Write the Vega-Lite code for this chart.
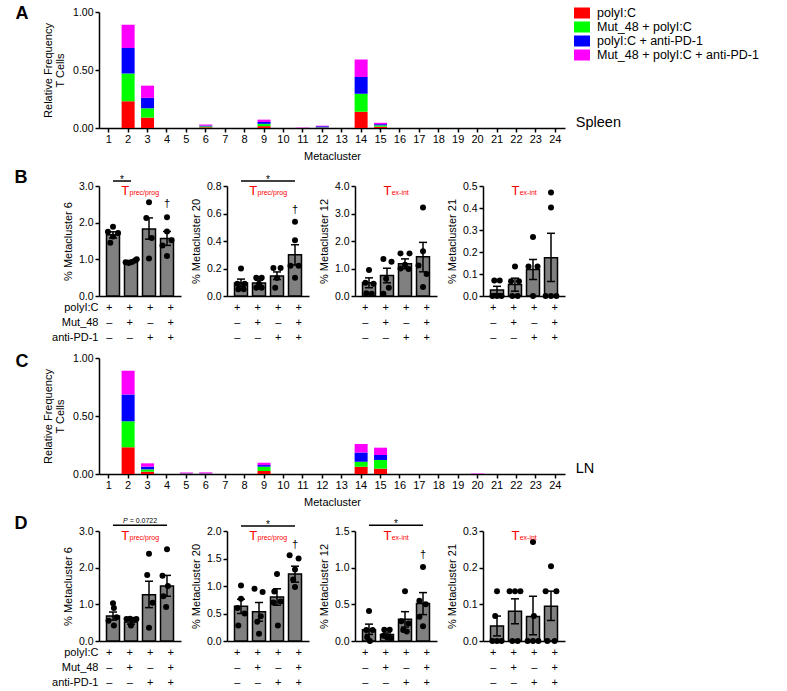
{
"$schema": "https://vega.github.io/schema/vega-lite/v6.json",
"background": "white",
"padding": {"left": 14, "top": 5, "right": 5, "bottom": 2},
"spacing": 8,
"datasets": {
"spleen": [
{"mc":2,"c":"polyI:C","k":0,"v":0.23},{"mc":2,"c":"Mut_48 + polyI:C","k":1,"v":0.24},{"mc":2,"c":"polyI:C + anti-PD-1","k":2,"v":0.22},{"mc":2,"c":"Mut_48 + polyI:C + anti-PD-1","k":3,"v":0.2},
{"mc":3,"c":"polyI:C","k":0,"v":0.09},{"mc":3,"c":"Mut_48 + polyI:C","k":1,"v":0.08},{"mc":3,"c":"polyI:C + anti-PD-1","k":2,"v":0.09},{"mc":3,"c":"Mut_48 + polyI:C + anti-PD-1","k":3,"v":0.105},
{"mc":6,"c":"polyI:C","k":0,"v":0.006},{"mc":6,"c":"Mut_48 + polyI:C","k":1,"v":0.008},{"mc":6,"c":"polyI:C + anti-PD-1","k":2,"v":0.007},{"mc":6,"c":"Mut_48 + polyI:C + anti-PD-1","k":3,"v":0.009},
{"mc":9,"c":"polyI:C","k":0,"v":0.016},{"mc":9,"c":"Mut_48 + polyI:C","k":1,"v":0.02},{"mc":9,"c":"polyI:C + anti-PD-1","k":2,"v":0.016},{"mc":9,"c":"Mut_48 + polyI:C + anti-PD-1","k":3,"v":0.02},
{"mc":11,"c":"Mut_48 + polyI:C + anti-PD-1","k":3,"v":0.003},
{"mc":12,"c":"polyI:C","k":0,"v":0.003},{"mc":12,"c":"Mut_48 + polyI:C","k":1,"v":0.003},{"mc":12,"c":"polyI:C + anti-PD-1","k":2,"v":0.009},{"mc":12,"c":"Mut_48 + polyI:C + anti-PD-1","k":3,"v":0.005},
{"mc":14,"c":"polyI:C","k":0,"v":0.14},{"mc":14,"c":"Mut_48 + polyI:C","k":1,"v":0.155},{"mc":14,"c":"polyI:C + anti-PD-1","k":2,"v":0.145},{"mc":14,"c":"Mut_48 + polyI:C + anti-PD-1","k":3,"v":0.15},
{"mc":15,"c":"polyI:C","k":0,"v":0.011},{"mc":15,"c":"Mut_48 + polyI:C","k":1,"v":0.012},{"mc":15,"c":"polyI:C + anti-PD-1","k":2,"v":0.01},{"mc":15,"c":"Mut_48 + polyI:C + anti-PD-1","k":3,"v":0.012}
],
"ln": [
{"mc":2,"c":"polyI:C","k":0,"v":0.23},{"mc":2,"c":"Mut_48 + polyI:C","k":1,"v":0.225},{"mc":2,"c":"polyI:C + anti-PD-1","k":2,"v":0.23},{"mc":2,"c":"Mut_48 + polyI:C + anti-PD-1","k":3,"v":0.205},
{"mc":3,"c":"polyI:C","k":0,"v":0.02},{"mc":3,"c":"Mut_48 + polyI:C","k":1,"v":0.02},{"mc":3,"c":"polyI:C + anti-PD-1","k":2,"v":0.023},{"mc":3,"c":"Mut_48 + polyI:C + anti-PD-1","k":3,"v":0.029},
{"mc":5,"c":"polyI:C","k":0,"v":0.002},{"mc":5,"c":"Mut_48 + polyI:C","k":1,"v":0.002},{"mc":5,"c":"polyI:C + anti-PD-1","k":2,"v":0.002},{"mc":5,"c":"Mut_48 + polyI:C + anti-PD-1","k":3,"v":0.008},
{"mc":6,"c":"polyI:C","k":0,"v":0.002},{"mc":6,"c":"Mut_48 + polyI:C","k":1,"v":0.002},{"mc":6,"c":"polyI:C + anti-PD-1","k":2,"v":0.002},{"mc":6,"c":"Mut_48 + polyI:C + anti-PD-1","k":3,"v":0.008},
{"mc":9,"c":"polyI:C","k":0,"v":0.026},{"mc":9,"c":"Mut_48 + polyI:C","k":1,"v":0.037},{"mc":9,"c":"polyI:C + anti-PD-1","k":2,"v":0.014},{"mc":9,"c":"Mut_48 + polyI:C + anti-PD-1","k":3,"v":0.02},
{"mc":14,"c":"polyI:C","k":0,"v":0.063},{"mc":14,"c":"Mut_48 + polyI:C","k":1,"v":0.043},{"mc":14,"c":"polyI:C + anti-PD-1","k":2,"v":0.08},{"mc":14,"c":"Mut_48 + polyI:C + anti-PD-1","k":3,"v":0.072},
{"mc":15,"c":"polyI:C","k":0,"v":0.046},{"mc":15,"c":"Mut_48 + polyI:C","k":1,"v":0.075},{"mc":15,"c":"polyI:C + anti-PD-1","k":2,"v":0.043},{"mc":15,"c":"Mut_48 + polyI:C + anti-PD-1","k":3,"v":0.063},
{"mc":20,"c":"Mut_48 + polyI:C + anti-PD-1","k":3,"v":0.004}
],
"bars": [
{"p":"B1","x":1,"y":1.67,"lo":1.58,"hi":1.75},{"p":"B1","x":2,"y":0.94,"lo":0.91,"hi":0.97},{"p":"B1","x":3,"y":1.83,"lo":1.55,"hi":2.13},{"p":"B1","x":4,"y":1.57,"lo":1.38,"hi":1.76},
{"p":"B2","x":1,"y":0.095,"lo":0.07,"hi":0.123},{"p":"B2","x":2,"y":0.095,"lo":0.077,"hi":0.115},{"p":"B2","x":3,"y":0.145,"lo":0.12,"hi":0.175},{"p":"B2","x":4,"y":0.3,"lo":0.225,"hi":0.373},
{"p":"B3","x":1,"y":0.48,"lo":0.3,"hi":0.66},{"p":"B3","x":2,"y":0.75,"lo":0.48,"hi":1.01},{"p":"B3","x":3,"y":1.17,"lo":0.99,"hi":1.35},{"p":"B3","x":4,"y":1.43,"lo":0.88,"hi":1.95},
{"p":"B4","x":1,"y":0.027,"lo":0.01,"hi":0.044},{"p":"B4","x":2,"y":0.052,"lo":0.022,"hi":0.081},{"p":"B4","x":3,"y":0.12,"lo":0.075,"hi":0.166},{"p":"B4","x":4,"y":0.174,"lo":0.066,"hi":0.285},
{"p":"D1","x":1,"y":0.68,"lo":0.57,"hi":0.79},{"p":"D1","x":2,"y":0.52,"lo":0.46,"hi":0.58},{"p":"D1","x":3,"y":1.26,"lo":0.91,"hi":1.63},{"p":"D1","x":4,"y":1.5,"lo":1.22,"hi":1.79},
{"p":"D2","x":1,"y":0.63,"lo":0.5,"hi":0.76},{"p":"D2","x":2,"y":0.53,"lo":0.36,"hi":0.7},{"p":"D2","x":3,"y":0.8,"lo":0.65,"hi":0.95},{"p":"D2","x":4,"y":1.22,"lo":1.07,"hi":1.36},
{"p":"D3","x":1,"y":0.155,"lo":0.09,"hi":0.23},{"p":"D3","x":2,"y":0.09,"lo":0.07,"hi":0.11},{"p":"D3","x":3,"y":0.295,"lo":0.19,"hi":0.4},{"p":"D3","x":4,"y":0.51,"lo":0.36,"hi":0.66},
{"p":"D4","x":1,"y":0.041,"lo":0.014,"hi":0.068},{"p":"D4","x":2,"y":0.081,"lo":0.047,"hi":0.115},{"p":"D4","x":3,"y":0.067,"lo":0.017,"hi":0.122},{"p":"D4","x":4,"y":0.095,"lo":0.056,"hi":0.136}
],
"pts": [
{"p":"B1","x":1,"y":1.89},{"p":"B1","x":0.72,"y":1.75},{"p":"B1","x":1.28,"y":1.72},{"p":"B1","x":1,"y":1.62},{"p":"B1","x":0.85,"y":1.45},
{"p":"B1","x":1.7,"y":0.92},{"p":"B1","x":1.88,"y":0.9},{"p":"B1","x":2.05,"y":0.93},{"p":"B1","x":2.22,"y":0.97},{"p":"B1","x":2.32,"y":1.0},
{"p":"B1","x":3,"y":2.56},{"p":"B1","x":2.85,"y":2.13},{"p":"B1","x":3.15,"y":1.58},{"p":"B1","x":3,"y":1.02},
{"p":"B1","x":4,"y":2.15},{"p":"B1","x":4,"y":1.76},{"p":"B1","x":4.25,"y":1.52},{"p":"B1","x":3.75,"y":1.38},{"p":"B1","x":4,"y":1.09},
{"p":"B2","x":1,"y":0.2},{"p":"B2","x":0.8,"y":0.09},{"p":"B2","x":1.2,"y":0.09},{"p":"B2","x":0.85,"y":0.05},{"p":"B2","x":1.15,"y":0.05},
{"p":"B2","x":1.85,"y":0.133},{"p":"B2","x":2.15,"y":0.133},{"p":"B2","x":2,"y":0.09},{"p":"B2","x":1.85,"y":0.06},{"p":"B2","x":2.15,"y":0.06},
{"p":"B2","x":2.8,"y":0.204},{"p":"B2","x":3.2,"y":0.204},{"p":"B2","x":3,"y":0.131},{"p":"B2","x":2.9,"y":0.06},
{"p":"B2","x":4,"y":0.54},{"p":"B2","x":4,"y":0.405},{"p":"B2","x":3.75,"y":0.22},{"p":"B2","x":4.2,"y":0.22},{"p":"B2","x":4,"y":0.133},
{"p":"B3","x":1,"y":0.95},{"p":"B3","x":0.8,"y":0.48},{"p":"B3","x":1.25,"y":0.45},{"p":"B3","x":0.85,"y":0.1},{"p":"B3","x":1.15,"y":0.08},
{"p":"B3","x":1.8,"y":1.35},{"p":"B3","x":2.25,"y":1.25},{"p":"B3","x":1.95,"y":0.63},{"p":"B3","x":2.1,"y":0.3},{"p":"B3","x":1.8,"y":0.08},
{"p":"B3","x":2.75,"y":1.55},{"p":"B3","x":3.25,"y":1.55},{"p":"B3","x":3,"y":1.14},{"p":"B3","x":2.75,"y":1.0},{"p":"B3","x":3.2,"y":0.98},
{"p":"B3","x":4,"y":3.22},{"p":"B3","x":4,"y":1.63},{"p":"B3","x":3.75,"y":1.11},{"p":"B3","x":4.2,"y":0.8},{"p":"B3","x":4,"y":0.33},
{"p":"B4","x":0.85,"y":0.07},{"p":"B4","x":1.15,"y":0.07},{"p":"B4","x":0.75,"y":0},{"p":"B4","x":1,"y":0},{"p":"B4","x":1.25,"y":0},
{"p":"B4","x":2,"y":0.134},{"p":"B4","x":1.78,"y":0.067},{"p":"B4","x":2.22,"y":0.067},{"p":"B4","x":1.85,"y":0},{"p":"B4","x":2.15,"y":0},
{"p":"B4","x":3,"y":0.268},{"p":"B4","x":2.75,"y":0.134},{"p":"B4","x":3.25,"y":0.134},{"p":"B4","x":3,"y":0},
{"p":"B4","x":4,"y":0.47},{"p":"B4","x":4,"y":0.402},{"p":"B4","x":3.7,"y":0},{"p":"B4","x":4,"y":0},{"p":"B4","x":4.3,"y":0},
{"p":"D1","x":1,"y":1.03},{"p":"D1","x":1.05,"y":0.9},{"p":"D1","x":1.2,"y":0.65},{"p":"D1","x":0.75,"y":0.55},{"p":"D1","x":1.05,"y":0.42},
{"p":"D1","x":1.75,"y":0.6},{"p":"D1","x":1.95,"y":0.61},{"p":"D1","x":2.15,"y":0.58},{"p":"D1","x":2.3,"y":0.6},{"p":"D1","x":2,"y":0.42},
{"p":"D1","x":3,"y":2.38},{"p":"D1","x":2.9,"y":1.8},{"p":"D1","x":3.2,"y":1.04},{"p":"D1","x":3,"y":0.36},
{"p":"D1","x":4,"y":2.5},{"p":"D1","x":3.75,"y":1.78},{"p":"D1","x":4.05,"y":1.5},{"p":"D1","x":3.8,"y":1.22},{"p":"D1","x":3.95,"y":0.93},
{"p":"D2","x":1,"y":1.01},{"p":"D2","x":1,"y":0.77},{"p":"D2","x":0.8,"y":0.6},{"p":"D2","x":1.2,"y":0.5},{"p":"D2","x":0.85,"y":0.28},
{"p":"D2","x":1.75,"y":0.95},{"p":"D2","x":2.2,"y":0.89},{"p":"D2","x":2.1,"y":0.45},{"p":"D2","x":1.9,"y":0.35},{"p":"D2","x":2,"y":0.13},
{"p":"D2","x":3,"y":1.22},{"p":"D2","x":2.85,"y":0.9},{"p":"D2","x":3.2,"y":0.72},{"p":"D2","x":2.8,"y":0.7},{"p":"D2","x":3.05,"y":0.28},
{"p":"D2","x":3.7,"y":1.56},{"p":"D2","x":4.2,"y":1.5},{"p":"D2","x":4,"y":1.3},{"p":"D2","x":3.9,"y":1.12},{"p":"D2","x":4,"y":0.98},
{"p":"D3","x":1,"y":0.41},{"p":"D3","x":0.85,"y":0.15},{"p":"D3","x":1.2,"y":0.15},{"p":"D3","x":0.9,"y":0.05},{"p":"D3","x":1.05,"y":0.0},
{"p":"D3","x":1.85,"y":0.155},{"p":"D3","x":2.15,"y":0.155},{"p":"D3","x":1.8,"y":0.07},{"p":"D3","x":2,"y":0.05},{"p":"D3","x":2.2,"y":0.04},
{"p":"D3","x":3,"y":0.68},{"p":"D3","x":2.8,"y":0.27},{"p":"D3","x":3.2,"y":0.24},{"p":"D3","x":2.9,"y":0.15},{"p":"D3","x":3.1,"y":0.13},
{"p":"D3","x":4,"y":1.01},{"p":"D3","x":3.8,"y":0.55},{"p":"D3","x":4.15,"y":0.5},{"p":"D3","x":3.8,"y":0.33},{"p":"D3","x":4,"y":0.2},
{"p":"D4","x":1,"y":0.136},{"p":"D4","x":0.9,"y":0.068},{"p":"D4","x":0.75,"y":0},{"p":"D4","x":1,"y":0},{"p":"D4","x":1.25,"y":0},
{"p":"D4","x":1.7,"y":0.136},{"p":"D4","x":2,"y":0.136},{"p":"D4","x":2.3,"y":0.136},{"p":"D4","x":1.85,"y":0},{"p":"D4","x":2.15,"y":0},
{"p":"D4","x":3,"y":0.27},{"p":"D4","x":3.05,"y":0.068},{"p":"D4","x":2.7,"y":0},{"p":"D4","x":3,"y":0},{"p":"D4","x":3.3,"y":0},
{"p":"D4","x":4,"y":0.204},{"p":"D4","x":3.7,"y":0.136},{"p":"D4","x":4.3,"y":0.136},{"p":"D4","x":3.8,"y":0},{"p":"D4","x":4.2,"y":0}
],
"signs": [
{"x":1,"f":"polyI:C","s":"+"},{"x":2,"f":"polyI:C","s":"+"},{"x":3,"f":"polyI:C","s":"+"},{"x":4,"f":"polyI:C","s":"+"},
{"x":1,"f":"Mut_48","s":"–"},{"x":2,"f":"Mut_48","s":"+"},{"x":3,"f":"Mut_48","s":"–"},{"x":4,"f":"Mut_48","s":"+"},
{"x":1,"f":"anti-PD-1","s":"–"},{"x":2,"f":"anti-PD-1","s":"–"},{"x":3,"f":"anti-PD-1","s":"+"},{"x":4,"f":"anti-PD-1","s":"+"}
]
},
"vconcat": [
{
 "width": 466, "height": 116,
 "title": {"text": "A", "orient": "left", "anchor": "end", "frame": "group", "angle": 0, "align": "right", "baseline": "alphabetic", "dy": 7, "offset": 1, "fontSize": 18, "fontWeight": "bold"},
 "layer": [
  {"data": {"name": "spleen"},
   "mark": {"type": "bar"},
   "encoding": {
    "x": {"field": "mc", "type": "ordinal", "title": "Metacluster", "scale": {"domain": [1,2,3,4,5,6,7,8,9,10,11,12,13,14,15,16,17,18,19,20,21,22,23,24], "paddingInner": 0.33, "paddingOuter": 0.165}, "axis": {"labelAngle": 0, "labelFontSize": 11, "labelPadding": 1, "titlePadding": 6}},
    "y": {"field": "v", "type": "quantitative", "stack": "zero", "title": ["Relative Frequency", "T Cells"], "scale": {"domain": [0, 1], "nice": false}, "axis": {"values": [0, 0.25, 0.5, 0.75, 1], "format": ".2f", "titlePadding": 7, "titleLineHeight": 12}},
    "color": {"field": "c", "type": "nominal", "scale": {"domain": ["polyI:C", "Mut_48 + polyI:C", "polyI:C + anti-PD-1", "Mut_48 + polyI:C + anti-PD-1"], "range": ["#ff0000", "#00ff00", "#0000ff", "#ff00ff"]},
      "legend": {"title": null, "orient": "none", "legendX": 476, "legendY": -6, "padding": 0, "symbolType": "M-1.143,-0.786H1.143V0.786H-1.143Z", "symbolSize": 196, "symbolStrokeWidth": 0, "symbolOpacity": 1, "labelFontSize": 12.5, "labelOffset": 8, "rowPadding": 0, "labelColor": "black", "labelLimit": 300}},
    "order": {"field": "k", "type": "quantitative"}
   }},
  {"data": {"values": [{"t": "Spleen"}]},
   "mark": {"type": "text", "align": "left", "baseline": "middle", "fontSize": 14.5, "dx": 20.5, "dy": -5, "color": "black"},
   "encoding": {"x": {"datum": 24, "type": "ordinal", "title": "Metacluster"}, "y": {"datum": 0, "type": "quantitative", "title": ["Relative Frequency", "T Cells"]}, "text": {"field": "t"}}}
 ]
},
{
 "columns": 4, "bounds": "flush", "spacing": {"row": 4, "column": 46},
 "concat": [
  {"width": 82, "height": 110,
   "title": {"text": "B", "orient": "left", "anchor": "end", "frame": "group", "angle": 0, "align": "right", "baseline": "alphabetic", "dy": -3, "offset": 22, "fontSize": 18, "fontWeight": "bold"},
   "encoding": {"x": {"field": "x", "type": "quantitative", "title": null, "scale": {"domain": [0.5, 4.5]}, "axis": {"labels": false, "ticks": false}},
                "y": {"field": "y", "type": "quantitative", "title": "% Metacluster 6", "scale": {"domain": [0, 3], "nice": false}, "axis": {"values": [0, 1, 2, 3], "format": ".1f"}}},
   "layer": [
    {"data": {"name": "bars"}, "transform": [{"filter": "datum.p === 'B1'"}], "mark": {"type": "bar", "size": 13, "fill": "#808080", "stroke": "black", "strokeWidth": 1.5}},
    {"data": {"name": "bars"}, "transform": [{"filter": "datum.p === 'B1'"}], "mark": {"type": "rule", "color": "black", "strokeWidth": 1.5}, "encoding": {"y": {"field": "lo", "type": "quantitative", "title": "% Metacluster 6", "scale": {"domain": [0, 3], "nice": false}}, "y2": {"field": "hi"}}},
    {"data": {"name": "bars"}, "transform": [{"filter": "datum.p === 'B1'"}], "mark": {"type": "tick", "orient": "horizontal", "size": 8, "thickness": 1.5, "color": "black", "opacity": 1}, "encoding": {"y": {"field": "hi", "type": "quantitative", "title": "% Metacluster 6", "scale": {"domain": [0, 3], "nice": false}}}},
    {"data": {"name": "bars"}, "transform": [{"filter": "datum.p === 'B1'"}], "mark": {"type": "tick", "orient": "horizontal", "size": 8, "thickness": 1.5, "color": "black", "opacity": 1}, "encoding": {"y": {"field": "lo", "type": "quantitative", "title": "% Metacluster 6", "scale": {"domain": [0, 3], "nice": false}}}},
    {"data": {"name": "pts"}, "transform": [{"filter": "datum.p === 'B1'"}], "mark": {"type": "circle", "size": 36, "color": "black", "opacity": 1}},
    {"data": {"values": [{"x": 1, "x2": 2, "y": 3.136}]}, "mark": {"type": "rule", "color": "black", "strokeWidth": 1.5}, "encoding": {"x2": {"field": "x2"}}},
    {"data": {"values": [{"x": 1.5, "y": 3.136, "t": "*"}]}, "mark": {"type": "text", "fontSize": 10, "baseline": "alphabetic", "dy": 2, "color": "black"}, "encoding": {"text": {"field": "t"}}},
    {"data": {"values": [{"x": 4, "y": 2.51, "t": "†"}]}, "mark": {"type": "text", "fontSize": 11, "baseline": "middle", "color": "black"}, "encoding": {"text": {"field": "t"}}},
    {"data": {"values": [{"x": 2.5, "y": 3, "t": "T"}]}, "mark": {"type": "text", "color": "#ff0000", "fontSize": 13, "align": "left", "baseline": "alphabetic", "dx": -18.7, "dy": 9}, "encoding": {"text": {"field": "t"}}},
    {"data": {"values": [{"x": 2.5, "y": 3, "t": "prec/prog"}]}, "mark": {"type": "text", "color": "#ff0000", "fontSize": 7, "align": "left", "baseline": "alphabetic", "dx": -10.5, "dy": 9}, "encoding": {"text": {"field": "t"}}}
   ]},
  {"width": 82, "height": 110,
   "encoding": {"x": {"field": "x", "type": "quantitative", "title": null, "scale": {"domain": [0.5, 4.5]}, "axis": {"labels": false, "ticks": false}},
                "y": {"field": "y", "type": "quantitative", "title": "% Metacluster 20", "scale": {"domain": [0, 0.8], "nice": false}, "axis": {"values": [0, 0.2, 0.4, 0.6, 0.8], "format": ".1f"}}},
   "layer": [
    {"data": {"name": "bars"}, "transform": [{"filter": "datum.p === 'B2'"}], "mark": {"type": "bar", "size": 13, "fill": "#808080", "stroke": "black", "strokeWidth": 1.5}},
    {"data": {"name": "bars"}, "transform": [{"filter": "datum.p === 'B2'"}], "mark": {"type": "rule", "color": "black", "strokeWidth": 1.5}, "encoding": {"y": {"field": "lo", "type": "quantitative", "title": "% Metacluster 20", "scale": {"domain": [0, 0.8], "nice": false}}, "y2": {"field": "hi"}}},
    {"data": {"name": "bars"}, "transform": [{"filter": "datum.p === 'B2'"}], "mark": {"type": "tick", "orient": "horizontal", "size": 8, "thickness": 1.5, "color": "black", "opacity": 1}, "encoding": {"y": {"field": "hi", "type": "quantitative", "title": "% Metacluster 20", "scale": {"domain": [0, 0.8], "nice": false}}}},
    {"data": {"name": "bars"}, "transform": [{"filter": "datum.p === 'B2'"}], "mark": {"type": "tick", "orient": "horizontal", "size": 8, "thickness": 1.5, "color": "black", "opacity": 1}, "encoding": {"y": {"field": "lo", "type": "quantitative", "title": "% Metacluster 20", "scale": {"domain": [0, 0.8], "nice": false}}}},
    {"data": {"name": "pts"}, "transform": [{"filter": "datum.p === 'B2'"}], "mark": {"type": "circle", "size": 36, "color": "black", "opacity": 1}},
    {"data": {"values": [{"x": 1, "x2": 4, "y": 0.836}]}, "mark": {"type": "rule", "color": "black", "strokeWidth": 1.5}, "encoding": {"x2": {"field": "x2"}}},
    {"data": {"values": [{"x": 2.5, "y": 0.836, "t": "*"}]}, "mark": {"type": "text", "fontSize": 10, "baseline": "alphabetic", "dy": 2, "color": "black"}, "encoding": {"text": {"field": "t"}}},
    {"data": {"values": [{"x": 4, "y": 0.625, "t": "†"}]}, "mark": {"type": "text", "fontSize": 11, "baseline": "middle", "color": "black"}, "encoding": {"text": {"field": "t"}}},
    {"data": {"values": [{"x": 2.5, "y": 0.8, "t": "T"}]}, "mark": {"type": "text", "color": "#ff0000", "fontSize": 13, "align": "left", "baseline": "alphabetic", "dx": -18.7, "dy": 9}, "encoding": {"text": {"field": "t"}}},
    {"data": {"values": [{"x": 2.5, "y": 0.8, "t": "prec/prog"}]}, "mark": {"type": "text", "color": "#ff0000", "fontSize": 7, "align": "left", "baseline": "alphabetic", "dx": -10.5, "dy": 9}, "encoding": {"text": {"field": "t"}}}
   ]},
  {"width": 82, "height": 110,
   "encoding": {"x": {"field": "x", "type": "quantitative", "title": null, "scale": {"domain": [0.5, 4.5]}, "axis": {"labels": false, "ticks": false}},
                "y": {"field": "y", "type": "quantitative", "title": "% Metacluster 12", "scale": {"domain": [0, 4], "nice": false}, "axis": {"values": [0, 1, 2, 3, 4], "format": ".1f"}}},
   "layer": [
    {"data": {"name": "bars"}, "transform": [{"filter": "datum.p === 'B3'"}], "mark": {"type": "bar", "size": 13, "fill": "#808080", "stroke": "black", "strokeWidth": 1.5}},
    {"data": {"name": "bars"}, "transform": [{"filter": "datum.p === 'B3'"}], "mark": {"type": "rule", "color": "black", "strokeWidth": 1.5}, "encoding": {"y": {"field": "lo", "type": "quantitative", "title": "% Metacluster 12", "scale": {"domain": [0, 4], "nice": false}}, "y2": {"field": "hi"}}},
    {"data": {"name": "bars"}, "transform": [{"filter": "datum.p === 'B3'"}], "mark": {"type": "tick", "orient": "horizontal", "size": 8, "thickness": 1.5, "color": "black", "opacity": 1}, "encoding": {"y": {"field": "hi", "type": "quantitative", "title": "% Metacluster 12", "scale": {"domain": [0, 4], "nice": false}}}},
    {"data": {"name": "bars"}, "transform": [{"filter": "datum.p === 'B3'"}], "mark": {"type": "tick", "orient": "horizontal", "size": 8, "thickness": 1.5, "color": "black", "opacity": 1}, "encoding": {"y": {"field": "lo", "type": "quantitative", "title": "% Metacluster 12", "scale": {"domain": [0, 4], "nice": false}}}},
    {"data": {"name": "pts"}, "transform": [{"filter": "datum.p === 'B3'"}], "mark": {"type": "circle", "size": 36, "color": "black", "opacity": 1}},
    {"data": {"values": [{"x": 2.5, "y": 4, "t": "T"}]}, "mark": {"type": "text", "color": "#ff0000", "fontSize": 13, "align": "left", "baseline": "alphabetic", "dx": -12.5, "dy": 9}, "encoding": {"text": {"field": "t"}}},
    {"data": {"values": [{"x": 2.5, "y": 4, "t": "ex-int"}]}, "mark": {"type": "text", "color": "#ff0000", "fontSize": 7, "align": "left", "baseline": "alphabetic", "dx": -4.3, "dy": 9}, "encoding": {"text": {"field": "t"}}}
   ]},
  {"width": 82, "height": 110,
   "encoding": {"x": {"field": "x", "type": "quantitative", "title": null, "scale": {"domain": [0.5, 4.5]}, "axis": {"labels": false, "ticks": false}},
                "y": {"field": "y", "type": "quantitative", "title": "% Metacluster 21", "scale": {"domain": [0, 0.5], "nice": false}, "axis": {"values": [0, 0.1, 0.2, 0.3, 0.4, 0.5], "format": ".1f"}}},
   "layer": [
    {"data": {"name": "bars"}, "transform": [{"filter": "datum.p === 'B4'"}], "mark": {"type": "bar", "size": 13, "fill": "#808080", "stroke": "black", "strokeWidth": 1.5}},
    {"data": {"name": "bars"}, "transform": [{"filter": "datum.p === 'B4'"}], "mark": {"type": "rule", "color": "black", "strokeWidth": 1.5}, "encoding": {"y": {"field": "lo", "type": "quantitative", "title": "% Metacluster 21", "scale": {"domain": [0, 0.5], "nice": false}}, "y2": {"field": "hi"}}},
    {"data": {"name": "bars"}, "transform": [{"filter": "datum.p === 'B4'"}], "mark": {"type": "tick", "orient": "horizontal", "size": 8, "thickness": 1.5, "color": "black", "opacity": 1}, "encoding": {"y": {"field": "hi", "type": "quantitative", "title": "% Metacluster 21", "scale": {"domain": [0, 0.5], "nice": false}}}},
    {"data": {"name": "bars"}, "transform": [{"filter": "datum.p === 'B4'"}], "mark": {"type": "tick", "orient": "horizontal", "size": 8, "thickness": 1.5, "color": "black", "opacity": 1}, "encoding": {"y": {"field": "lo", "type": "quantitative", "title": "% Metacluster 21", "scale": {"domain": [0, 0.5], "nice": false}}}},
    {"data": {"name": "pts"}, "transform": [{"filter": "datum.p === 'B4'"}], "mark": {"type": "circle", "size": 36, "color": "black", "opacity": 1}},
    {"data": {"values": [{"x": 2.5, "y": 0.5, "t": "T"}]}, "mark": {"type": "text", "color": "#ff0000", "fontSize": 13, "align": "left", "baseline": "alphabetic", "dx": -12.5, "dy": 9}, "encoding": {"text": {"field": "t"}}},
    {"data": {"values": [{"x": 2.5, "y": 0.5, "t": "ex-int"}]}, "mark": {"type": "text", "color": "#ff0000", "fontSize": 7, "align": "left", "baseline": "alphabetic", "dx": -4.3, "dy": 9}, "encoding": {"text": {"field": "t"}}}
   ]},
  {"width": 82, "height": 45, "data": {"name": "signs"}, "mark": {"type": "text", "fontSize": 11, "color": "black"},
   "encoding": {"x": {"field": "x", "type": "quantitative", "scale": {"domain": [0.5, 4.5]}, "axis": null},
                "y": {"field": "f", "type": "nominal", "sort": ["polyI:C", "Mut_48", "anti-PD-1"], "title": null, "axis": {"domain": false, "ticks": false, "labelPadding": 1, "labelFontSize": 11}},
                "text": {"field": "s"}}},
  {"width": 82, "height": 45, "data": {"name": "signs"}, "mark": {"type": "text", "fontSize": 11, "color": "black"},
   "encoding": {"x": {"field": "x", "type": "quantitative", "scale": {"domain": [0.5, 4.5]}, "axis": null},
                "y": {"field": "f", "type": "nominal", "sort": ["polyI:C", "Mut_48", "anti-PD-1"], "axis": null},
                "text": {"field": "s"}}},
  {"width": 82, "height": 45, "data": {"name": "signs"}, "mark": {"type": "text", "fontSize": 11, "color": "black"},
   "encoding": {"x": {"field": "x", "type": "quantitative", "scale": {"domain": [0.5, 4.5]}, "axis": null},
                "y": {"field": "f", "type": "nominal", "sort": ["polyI:C", "Mut_48", "anti-PD-1"], "axis": null},
                "text": {"field": "s"}}},
  {"width": 82, "height": 45, "data": {"name": "signs"}, "mark": {"type": "text", "fontSize": 11, "color": "black"},
   "encoding": {"x": {"field": "x", "type": "quantitative", "scale": {"domain": [0.5, 4.5]}, "axis": null},
                "y": {"field": "f", "type": "nominal", "sort": ["polyI:C", "Mut_48", "anti-PD-1"], "axis": null},
                "text": {"field": "s"}}}
 ]
},
{
 "width": 466, "height": 116,
 "title": {"text": "C", "orient": "left", "anchor": "end", "frame": "group", "angle": 0, "align": "right", "baseline": "alphabetic", "dy": 9, "offset": 1, "fontSize": 18, "fontWeight": "bold"},
 "layer": [
  {"data": {"name": "ln"},
   "mark": {"type": "bar"},
   "encoding": {
    "x": {"field": "mc", "type": "ordinal", "title": "Metacluster", "scale": {"domain": [1,2,3,4,5,6,7,8,9,10,11,12,13,14,15,16,17,18,19,20,21,22,23,24], "paddingInner": 0.33, "paddingOuter": 0.165}, "axis": {"labelAngle": 0, "labelFontSize": 11, "labelPadding": 1, "titlePadding": 6}},
    "y": {"field": "v", "type": "quantitative", "stack": "zero", "title": ["Relative Frequency", "T Cells"], "scale": {"domain": [0, 1], "nice": false}, "axis": {"values": [0, 0.25, 0.5, 0.75, 1], "format": ".2f", "titlePadding": 7, "titleLineHeight": 12}},
    "color": {"field": "c", "type": "nominal", "scale": {"domain": ["polyI:C", "Mut_48 + polyI:C", "polyI:C + anti-PD-1", "Mut_48 + polyI:C + anti-PD-1"], "range": ["#ff0000", "#00ff00", "#0000ff", "#ff00ff"]}, "legend": null},
    "order": {"field": "k", "type": "quantitative"}
   }},
  {"data": {"values": [{"t": "LN"}]},
   "mark": {"type": "text", "align": "left", "baseline": "middle", "fontSize": 14.5, "dx": 20.5, "dy": -5.5, "color": "black"},
   "encoding": {"x": {"datum": 24, "type": "ordinal", "title": "Metacluster"}, "y": {"datum": 0, "type": "quantitative", "title": ["Relative Frequency", "T Cells"]}, "text": {"field": "t"}}}
 ]
},
{
 "columns": 4, "bounds": "flush", "spacing": {"row": 4, "column": 46},
 "concat": [
  {"width": 82, "height": 110,
   "title": {"text": "D", "orient": "left", "anchor": "end", "frame": "group", "angle": 0, "align": "right", "baseline": "alphabetic", "dy": -2, "offset": 22, "fontSize": 18, "fontWeight": "bold"},
   "encoding": {"x": {"field": "x", "type": "quantitative", "title": null, "scale": {"domain": [0.5, 4.5]}, "axis": {"labels": false, "ticks": false}},
                "y": {"field": "y", "type": "quantitative", "title": "% Metacluster 6", "scale": {"domain": [0, 3], "nice": false}, "axis": {"values": [0, 1, 2, 3], "format": ".1f"}}},
   "layer": [
    {"data": {"name": "bars"}, "transform": [{"filter": "datum.p === 'D1'"}], "mark": {"type": "bar", "size": 13, "fill": "#808080", "stroke": "black", "strokeWidth": 1.5}},
    {"data": {"name": "bars"}, "transform": [{"filter": "datum.p === 'D1'"}], "mark": {"type": "rule", "color": "black", "strokeWidth": 1.5}, "encoding": {"y": {"field": "lo", "type": "quantitative", "title": "% Metacluster 6", "scale": {"domain": [0, 3], "nice": false}}, "y2": {"field": "hi"}}},
    {"data": {"name": "bars"}, "transform": [{"filter": "datum.p === 'D1'"}], "mark": {"type": "tick", "orient": "horizontal", "size": 8, "thickness": 1.5, "color": "black", "opacity": 1}, "encoding": {"y": {"field": "hi", "type": "quantitative", "title": "% Metacluster 6", "scale": {"domain": [0, 3], "nice": false}}}},
    {"data": {"name": "bars"}, "transform": [{"filter": "datum.p === 'D1'"}], "mark": {"type": "tick", "orient": "horizontal", "size": 8, "thickness": 1.5, "color": "black", "opacity": 1}, "encoding": {"y": {"field": "lo", "type": "quantitative", "title": "% Metacluster 6", "scale": {"domain": [0, 3], "nice": false}}}},
    {"data": {"name": "pts"}, "transform": [{"filter": "datum.p === 'D1'"}], "mark": {"type": "circle", "size": 36, "color": "black", "opacity": 1}},
    {"data": {"values": [{"x": 1, "x2": 4, "y": 3.155}]}, "mark": {"type": "rule", "color": "black", "strokeWidth": 1.5}, "encoding": {"x2": {"field": "x2"}}},
    {"data": {"values": [{"x": 2.5, "y": 3.155, "t": "P"}]}, "mark": {"type": "text", "fontSize": 7, "fontStyle": "italic", "align": "left", "baseline": "alphabetic", "dx": -17, "dy": -2, "color": "black"}, "encoding": {"text": {"field": "t"}}},
    {"data": {"values": [{"x": 2.5, "y": 3.155, "t": "= 0.0722"}]}, "mark": {"type": "text", "fontSize": 7, "align": "left", "baseline": "alphabetic", "dx": -10.3, "dy": -2, "color": "black"}, "encoding": {"text": {"field": "t"}}},
    {"data": {"values": [{"x": 2.5, "y": 3, "t": "T"}]}, "mark": {"type": "text", "color": "#ff0000", "fontSize": 13, "align": "left", "baseline": "alphabetic", "dx": -18.7, "dy": 9}, "encoding": {"text": {"field": "t"}}},
    {"data": {"values": [{"x": 2.5, "y": 3, "t": "prec/prog"}]}, "mark": {"type": "text", "color": "#ff0000", "fontSize": 7, "align": "left", "baseline": "alphabetic", "dx": -10.5, "dy": 9}, "encoding": {"text": {"field": "t"}}}
   ]},
  {"width": 82, "height": 110,
   "encoding": {"x": {"field": "x", "type": "quantitative", "title": null, "scale": {"domain": [0.5, 4.5]}, "axis": {"labels": false, "ticks": false}},
                "y": {"field": "y", "type": "quantitative", "title": "% Metacluster 20", "scale": {"domain": [0, 2], "nice": false}, "axis": {"values": [0, 0.5, 1, 1.5, 2], "format": ".1f"}}},
   "layer": [
    {"data": {"name": "bars"}, "transform": [{"filter": "datum.p === 'D2'"}], "mark": {"type": "bar", "size": 13, "fill": "#808080", "stroke": "black", "strokeWidth": 1.5}},
    {"data": {"name": "bars"}, "transform": [{"filter": "datum.p === 'D2'"}], "mark": {"type": "rule", "color": "black", "strokeWidth": 1.5}, "encoding": {"y": {"field": "lo", "type": "quantitative", "title": "% Metacluster 20", "scale": {"domain": [0, 2], "nice": false}}, "y2": {"field": "hi"}}},
    {"data": {"name": "bars"}, "transform": [{"filter": "datum.p === 'D2'"}], "mark": {"type": "tick", "orient": "horizontal", "size": 8, "thickness": 1.5, "color": "black", "opacity": 1}, "encoding": {"y": {"field": "hi", "type": "quantitative", "title": "% Metacluster 20", "scale": {"domain": [0, 2], "nice": false}}}},
    {"data": {"name": "bars"}, "transform": [{"filter": "datum.p === 'D2'"}], "mark": {"type": "tick", "orient": "horizontal", "size": 8, "thickness": 1.5, "color": "black", "opacity": 1}, "encoding": {"y": {"field": "lo", "type": "quantitative", "title": "% Metacluster 20", "scale": {"domain": [0, 2], "nice": false}}}},
    {"data": {"name": "pts"}, "transform": [{"filter": "datum.p === 'D2'"}], "mark": {"type": "circle", "size": 36, "color": "black", "opacity": 1}},
    {"data": {"values": [{"x": 1, "x2": 4, "y": 2.09}]}, "mark": {"type": "rule", "color": "black", "strokeWidth": 1.5}, "encoding": {"x2": {"field": "x2"}}},
    {"data": {"values": [{"x": 2.5, "y": 2.09, "t": "*"}]}, "mark": {"type": "text", "fontSize": 10, "baseline": "alphabetic", "dy": 2, "color": "black"}, "encoding": {"text": {"field": "t"}}},
    {"data": {"values": [{"x": 4, "y": 1.745, "t": "†"}]}, "mark": {"type": "text", "fontSize": 11, "baseline": "middle", "color": "black"}, "encoding": {"text": {"field": "t"}}},
    {"data": {"values": [{"x": 2.5, "y": 2, "t": "T"}]}, "mark": {"type": "text", "color": "#ff0000", "fontSize": 13, "align": "left", "baseline": "alphabetic", "dx": -18.7, "dy": 9}, "encoding": {"text": {"field": "t"}}},
    {"data": {"values": [{"x": 2.5, "y": 2, "t": "prec/prog"}]}, "mark": {"type": "text", "color": "#ff0000", "fontSize": 7, "align": "left", "baseline": "alphabetic", "dx": -10.5, "dy": 9}, "encoding": {"text": {"field": "t"}}}
   ]},
  {"width": 82, "height": 110,
   "encoding": {"x": {"field": "x", "type": "quantitative", "title": null, "scale": {"domain": [0.5, 4.5]}, "axis": {"labels": false, "ticks": false}},
                "y": {"field": "y", "type": "quantitative", "title": "% Metacluster 12", "scale": {"domain": [0, 1.5], "nice": false}, "axis": {"values": [0, 0.5, 1, 1.5], "format": ".1f"}}},
   "layer": [
    {"data": {"name": "bars"}, "transform": [{"filter": "datum.p === 'D3'"}], "mark": {"type": "bar", "size": 13, "fill": "#808080", "stroke": "black", "strokeWidth": 1.5}},
    {"data": {"name": "bars"}, "transform": [{"filter": "datum.p === 'D3'"}], "mark": {"type": "rule", "color": "black", "strokeWidth": 1.5}, "encoding": {"y": {"field": "lo", "type": "quantitative", "title": "% Metacluster 12", "scale": {"domain": [0, 1.5], "nice": false}}, "y2": {"field": "hi"}}},
    {"data": {"name": "bars"}, "transform": [{"filter": "datum.p === 'D3'"}], "mark": {"type": "tick", "orient": "horizontal", "size": 8, "thickness": 1.5, "color": "black", "opacity": 1}, "encoding": {"y": {"field": "hi", "type": "quantitative", "title": "% Metacluster 12", "scale": {"domain": [0, 1.5], "nice": false}}}},
    {"data": {"name": "bars"}, "transform": [{"filter": "datum.p === 'D3'"}], "mark": {"type": "tick", "orient": "horizontal", "size": 8, "thickness": 1.5, "color": "black", "opacity": 1}, "encoding": {"y": {"field": "lo", "type": "quantitative", "title": "% Metacluster 12", "scale": {"domain": [0, 1.5], "nice": false}}}},
    {"data": {"name": "pts"}, "transform": [{"filter": "datum.p === 'D3'"}], "mark": {"type": "circle", "size": 36, "color": "black", "opacity": 1}},
    {"data": {"values": [{"x": 1, "x2": 4, "y": 1.578}]}, "mark": {"type": "rule", "color": "black", "strokeWidth": 1.5}, "encoding": {"x2": {"field": "x2"}}},
    {"data": {"values": [{"x": 2.5, "y": 1.578, "t": "*"}]}, "mark": {"type": "text", "fontSize": 10, "baseline": "alphabetic", "dy": 2, "color": "black"}, "encoding": {"text": {"field": "t"}}},
    {"data": {"values": [{"x": 4, "y": 1.17, "t": "†"}]}, "mark": {"type": "text", "fontSize": 11, "baseline": "middle", "color": "black"}, "encoding": {"text": {"field": "t"}}},
    {"data": {"values": [{"x": 2.5, "y": 1.5, "t": "T"}]}, "mark": {"type": "text", "color": "#ff0000", "fontSize": 13, "align": "left", "baseline": "alphabetic", "dx": -12.5, "dy": 9}, "encoding": {"text": {"field": "t"}}},
    {"data": {"values": [{"x": 2.5, "y": 1.5, "t": "ex-int"}]}, "mark": {"type": "text", "color": "#ff0000", "fontSize": 7, "align": "left", "baseline": "alphabetic", "dx": -4.3, "dy": 9}, "encoding": {"text": {"field": "t"}}}
   ]},
  {"width": 82, "height": 110,
   "encoding": {"x": {"field": "x", "type": "quantitative", "title": null, "scale": {"domain": [0.5, 4.5]}, "axis": {"labels": false, "ticks": false}},
                "y": {"field": "y", "type": "quantitative", "title": "% Metacluster 21", "scale": {"domain": [0, 0.3], "nice": false}, "axis": {"values": [0, 0.1, 0.2, 0.3], "format": ".1f"}}},
   "layer": [
    {"data": {"name": "bars"}, "transform": [{"filter": "datum.p === 'D4'"}], "mark": {"type": "bar", "size": 13, "fill": "#808080", "stroke": "black", "strokeWidth": 1.5}},
    {"data": {"name": "bars"}, "transform": [{"filter": "datum.p === 'D4'"}], "mark": {"type": "rule", "color": "black", "strokeWidth": 1.5}, "encoding": {"y": {"field": "lo", "type": "quantitative", "title": "% Metacluster 21", "scale": {"domain": [0, 0.3], "nice": false}}, "y2": {"field": "hi"}}},
    {"data": {"name": "bars"}, "transform": [{"filter": "datum.p === 'D4'"}], "mark": {"type": "tick", "orient": "horizontal", "size": 8, "thickness": 1.5, "color": "black", "opacity": 1}, "encoding": {"y": {"field": "hi", "type": "quantitative", "title": "% Metacluster 21", "scale": {"domain": [0, 0.3], "nice": false}}}},
    {"data": {"name": "bars"}, "transform": [{"filter": "datum.p === 'D4'"}], "mark": {"type": "tick", "orient": "horizontal", "size": 8, "thickness": 1.5, "color": "black", "opacity": 1}, "encoding": {"y": {"field": "lo", "type": "quantitative", "title": "% Metacluster 21", "scale": {"domain": [0, 0.3], "nice": false}}}},
    {"data": {"name": "pts"}, "transform": [{"filter": "datum.p === 'D4'"}], "mark": {"type": "circle", "size": 36, "color": "black", "opacity": 1}},
    {"data": {"values": [{"x": 2.5, "y": 0.3, "t": "T"}]}, "mark": {"type": "text", "color": "#ff0000", "fontSize": 13, "align": "left", "baseline": "alphabetic", "dx": -12.5, "dy": 9}, "encoding": {"text": {"field": "t"}}},
    {"data": {"values": [{"x": 2.5, "y": 0.3, "t": "ex-int"}]}, "mark": {"type": "text", "color": "#ff0000", "fontSize": 7, "align": "left", "baseline": "alphabetic", "dx": -4.3, "dy": 9}, "encoding": {"text": {"field": "t"}}}
   ]},
  {"width": 82, "height": 45, "data": {"name": "signs"}, "mark": {"type": "text", "fontSize": 11, "color": "black"},
   "encoding": {"x": {"field": "x", "type": "quantitative", "scale": {"domain": [0.5, 4.5]}, "axis": null},
                "y": {"field": "f", "type": "nominal", "sort": ["polyI:C", "Mut_48", "anti-PD-1"], "title": null, "axis": {"domain": false, "ticks": false, "labelPadding": 1, "labelFontSize": 11}},
                "text": {"field": "s"}}},
  {"width": 82, "height": 45, "data": {"name": "signs"}, "mark": {"type": "text", "fontSize": 11, "color": "black"},
   "encoding": {"x": {"field": "x", "type": "quantitative", "scale": {"domain": [0.5, 4.5]}, "axis": null},
                "y": {"field": "f", "type": "nominal", "sort": ["polyI:C", "Mut_48", "anti-PD-1"], "axis": null},
                "text": {"field": "s"}}},
  {"width": 82, "height": 45, "data": {"name": "signs"}, "mark": {"type": "text", "fontSize": 11, "color": "black"},
   "encoding": {"x": {"field": "x", "type": "quantitative", "scale": {"domain": [0.5, 4.5]}, "axis": null},
                "y": {"field": "f", "type": "nominal", "sort": ["polyI:C", "Mut_48", "anti-PD-1"], "axis": null},
                "text": {"field": "s"}}},
  {"width": 82, "height": 45, "data": {"name": "signs"}, "mark": {"type": "text", "fontSize": 11, "color": "black"},
   "encoding": {"x": {"field": "x", "type": "quantitative", "scale": {"domain": [0.5, 4.5]}, "axis": null},
                "y": {"field": "f", "type": "nominal", "sort": ["polyI:C", "Mut_48", "anti-PD-1"], "axis": null},
                "text": {"field": "s"}}}
 ]
}
],
"config": {
 "font": "Liberation Sans",
 "view": {"stroke": null},
 "axis": {"grid": false, "domainColor": "black", "domainWidth": 1.5, "tickColor": "black", "tickWidth": 1.5, "tickSize": 4, "labelColor": "black", "labelFontSize": 10.5, "labelPadding": 2, "titleColor": "black", "titleFontSize": 11, "titleFontWeight": "normal", "titlePadding": 5},
 "title": {"color": "black"},
 "text": {"color": "black"}
}
}
